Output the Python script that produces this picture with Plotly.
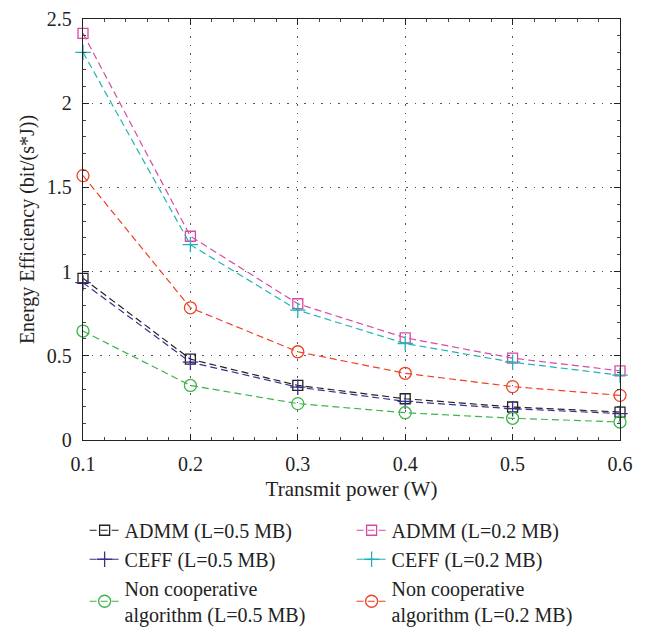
import plotly.graph_objects as go

power = [0.1, 0.2, 0.3, 0.4, 0.5, 0.6]
admm_05 = [0.96, 0.48, 0.324, 0.245, 0.196, 0.166]
admm_02 = [2.415, 1.21, 0.809, 0.607, 0.486, 0.411]
ceff_05 = [0.934, 0.462, 0.314, 0.229, 0.186, 0.157]
ceff_02 = [2.302, 1.16, 0.771, 0.573, 0.462, 0.385]
nc_05 = [0.647, 0.324, 0.216, 0.162, 0.129, 0.107]
nc_02 = [1.57, 0.785, 0.524, 0.396, 0.317, 0.265]

x_ticks = [0.1, 0.2, 0.3, 0.4, 0.5, 0.6]
x_labels = ["0.1", "0.2", "0.3", "0.4", "0.5", "0.6"]
y_ticks = [0, 0.5, 1, 1.5, 2, 2.5]
y_labels = ["0", "0.5", "1", "1.5", "2", "2.5"]

names = [
    "ADMM (L=0.5 MB)", "ADMM (L=0.2 MB)",
    "CEFF (L=0.5 MB)", "CEFF (L=0.2 MB)",
    "Non cooperative<br>algorithm (L=0.5 MB)", "Non cooperative<br>algorithm (L=0.2 MB)",
]
series = [admm_05, admm_02, ceff_05, ceff_02, nc_05, nc_02]
colors = ["#222222", "#d64aa6", "#3a2f8f", "#1fb3b8", "#3cb44a", "#ee4125"]
symbols = ["square-open", "square-open", "cross-thin-open", "cross-thin-open",
           "circle-open", "circle-open"]
sizes = [10, 10, 11, 11, 12, 12]

FONT = "Liberation Serif"

fig = go.Figure()
for nm, ys, c, s, sz in zip(names, series, colors, symbols, sizes):
    fig.add_trace(go.Scatter(
        x=power, y=ys, name=nm, mode="lines+markers",
        line=dict(color=c, width=1.2, dash="7px,4px"),
        marker=dict(symbol=s, size=sz, color=c, line=dict(color=c, width=1.3)),
        cliponaxis=False,
    ))

axis_common = dict(
    showline=True, linecolor="#222", linewidth=1.3, mirror="ticks",
    ticks="inside", ticklen=6, tickcolor="#222",
    showgrid=True, gridcolor="#555", griddash="1.5px,7px", gridwidth=1,
    zeroline=False, ticklabelstandoff=6,
    tickfont=dict(family=FONT, size=20, color="#222"),
)

fig.update_xaxes(
    range=[0.1, 0.6], tickvals=x_ticks, ticktext=x_labels,
    title=dict(text="Transmit power (W)", font=dict(family=FONT, size=21, color="#222"), standoff=7),
    minor=dict(dtick=0.02, ticks="inside", ticklen=3, tickcolor="#444", showgrid=False),
    **axis_common,
)
fig.update_yaxes(
    range=[0, 2.5], tickvals=y_ticks, ticktext=y_labels,
    title=dict(text="Energy Efficiency (bit/(s*J))", font=dict(family=FONT, size=20, color="#222"), standoff=6),
    minor=dict(dtick=0.1, ticks="inside", ticklen=3, tickcolor="#444", showgrid=False),
    **axis_common,
)

# the page adds an 8px body margin, so the figure is sized/offset to compensate
fig.update_layout(
    width=638, height=619,
    margin=dict(l=75, r=26, t=11, b=187, autoexpand=False),
    plot_bgcolor="white", paper_bgcolor="white",
    font=dict(family=FONT, color="#222"),
    showlegend=True,
    legend=dict(
        orientation="h", x=0.003, y=-0.168, xanchor="left", yanchor="top",
        entrywidth=222, entrywidthmode="pixels",
        font=dict(family=FONT, size=20, color="#222"),
        bgcolor="rgba(0,0,0,0)", itemwidth=30, tracegroupgap=0,
        traceorder="normal",
    ),
)

fig.write_html("out.html")
